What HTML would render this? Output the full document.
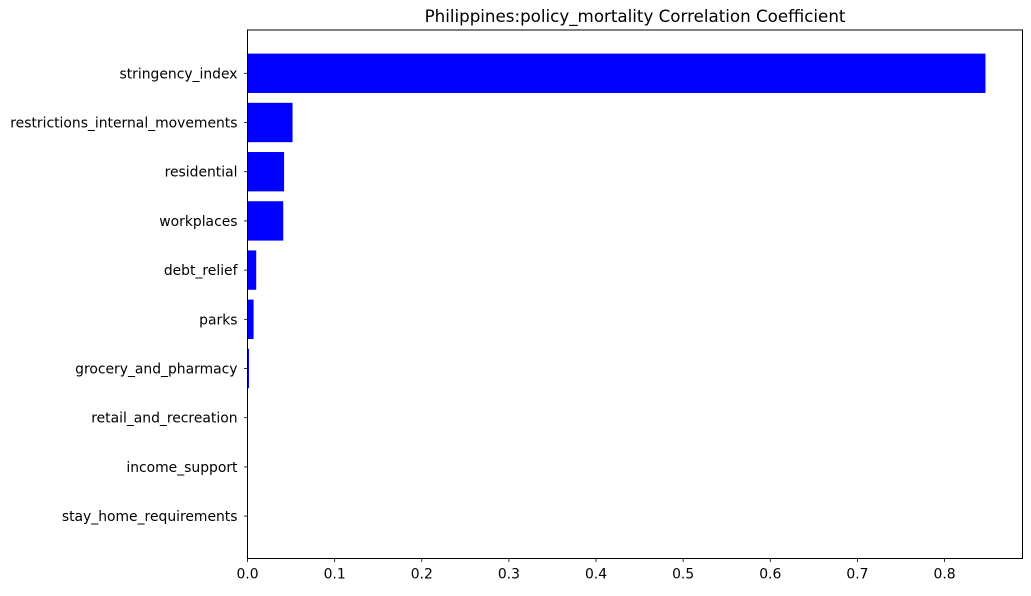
<!DOCTYPE html>
<html><head><meta charset="utf-8"><style>
body{margin:0;background:#fff;font-family:"DejaVu Sans","Liberation Sans",sans-serif}
</style></head><body>
<svg id="chart" width="1031" height="592" xmlns="http://www.w3.org/2000/svg" font-family="DejaVu Sans, Liberation Sans, sans-serif"></svg>
<script>
const categories=["stringency_index","restrictions_internal_movements","residential","workplaces","debt_relief","parks","grocery_and_pharmacy","retail_and_recreation","income_support","stay_home_requirements"];
const values=[0.847,0.0517,0.042,0.041,0.010,0.007,0.0017,0.0,0.0,0.0];
const xTicks=[0,0.1,0.2,0.3,0.4,0.5,0.6,0.7,0.8];
const xTickLabels=["0.0","0.1","0.2","0.3","0.4","0.5","0.6","0.7","0.8"];
const NS="http://www.w3.org/2000/svg";
const svg=document.getElementById('chart');
const L=247.5,R=1022.5,T=30,B=558.5;
const x=v=>L+v*871.3;
const step=49.2,y0=73.3;
const y=i=>y0+i*step;
function mk(t,a){const e=document.createElementNS(NS,t);for(const k in a)e.setAttribute(k,a[k]);svg.appendChild(e);return e;}
categories.forEach((c,i)=>{
  const r=mk('rect',{x:L,y:y(i)-step*0.4,width:Math.max(0,x(values[i])-L),height:step*0.8,fill:'#0000ff'});
  
  
  const tk=mk('line',{x1:L-3.5,x2:L,y1:y(i),y2:y(i),stroke:'#000','stroke-width':0.8});
  
  
  const t=mk('text',{x:L-10,y:y(i)+5,'text-anchor':'end','font-size':13.9});
  t.textContent=c;
  
  
});
xTicks.forEach((v,i)=>{
  const tk=mk('line',{x1:x(v),x2:x(v),y1:B,y2:B+3.5,stroke:'#000','stroke-width':0.8});
  
  
  const t=mk('text',{x:x(v),y:B+20,'text-anchor':'middle','font-size':13.9});
  t.textContent=xTickLabels[i];
  
  
});
const f=mk('rect',{x:L,y:T,width:R-L,height:B-T,fill:'none',stroke:'#000','stroke-width':1});


const ti=mk('text',{x:(L+R)/2,y:T-8,'text-anchor':'middle','font-size':16.7});
ti.textContent='Philippines:policy_mortality Correlation Coefficient';


</script>
</body></html>
